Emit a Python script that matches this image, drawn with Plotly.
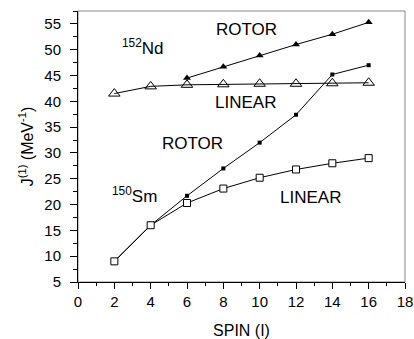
import plotly.graph_objects as go

spin = [2, 4, 6, 8, 10, 12, 14, 16]
nd_linear = [41.5, 42.9, 43.2, 43.3, 43.4, 43.4, 43.5, 43.6]
spin_nd_rotor = [6, 8, 10, 12, 14, 16]
nd_rotor = [44.5, 46.7, 48.9, 51.0, 53.0, 55.3]
sm_rotor = [9.0, 16.0, 21.7, 27.0, 32.0, 37.4, 45.2, 47.0]
sm_linear = [9.0, 16.0, 20.3, 23.1, 25.2, 26.8, 28.0, 29.0]

FONT = "Liberation Sans, Arial, sans-serif"

fig = go.Figure()
line = dict(color="black", width=1)
fig.add_trace(go.Scatter(x=spin, y=nd_linear, mode="lines+markers", line=line,
                         marker=dict(symbol="triangle-up-open", size=10, color="black", line=dict(width=1))))
fig.add_trace(go.Scatter(x=spin_nd_rotor, y=nd_rotor, mode="lines+markers", line=line,
                         marker=dict(symbol="triangle-up", size=7, color="black")))
fig.add_trace(go.Scatter(x=spin, y=sm_rotor, mode="lines+markers", line=line,
                         marker=dict(symbol="square", size=4, color="black")))
fig.add_trace(go.Scatter(x=spin, y=sm_linear, mode="lines+markers", line=line,
                         marker=dict(symbol="square", size=7, color="white", line=dict(width=1, color="black"))))

annots = [
    (9.3, 54.0, "ROTOR"),
    (3.6, 50.6, "<sup>152</sup>Nd"),
    (9.2, 39.7, "LINEAR"),
    (6.3, 31.8, "ROTOR"),
    (3.1, 21.9, "<sup>150</sup>Sm"),
    (12.8, 21.4, "LINEAR"),
]
for x, y, t in annots:
    fig.add_annotation(x=x, y=y, text=t, showarrow=False, xanchor="center", yanchor="middle",
                       font=dict(family=FONT, size=17, color="black"))

fig.add_shape(type="rect", xref="paper", yref="paper", x0=0, x1=1, y0=0, y1=1,
              line=dict(color="#888888", width=1), layer="below")

fig.update_layout(
    width=414, height=339,
    margin=dict(l=78, r=9, t=11, b=57, autoexpand=False),
    plot_bgcolor="white", paper_bgcolor="white",
    showlegend=False,
    font=dict(family=FONT, size=14, color="black"),
    xaxis=dict(range=[0, 18], dtick=2, ticks="outside", ticklen=6, tickwidth=1, tickcolor="black",
               showline=True, linecolor="black", linewidth=1, showgrid=False, zeroline=False,
               minor=dict(dtick=1, ticks="outside", ticklen=3, tickcolor="black"),
               tickfont=dict(size=15), automargin=False,
               title=dict(text="SPIN (I)", font=dict(size=16), standoff=15)),
    yaxis=dict(range=[5, 57.5], tick0=5, dtick=5, ticks="outside", ticklen=7, tickwidth=1, tickcolor="black",
               showline=True, linecolor="black", linewidth=1, showgrid=False, zeroline=False,
               minor=dict(dtick=2.5, ticks="outside", ticklen=4, tickcolor="black"),
               tickfont=dict(size=15), ticklabelstandoff=6, automargin=False,
               title=dict(text="J<sup>(1)</sup> (MeV<sup>-1</sup>)", font=dict(size=16), standoff=6)),
)

fig.write_html("out.html", post_script="document.body.style.margin='0';",
               config={"displayModeBar": False})
